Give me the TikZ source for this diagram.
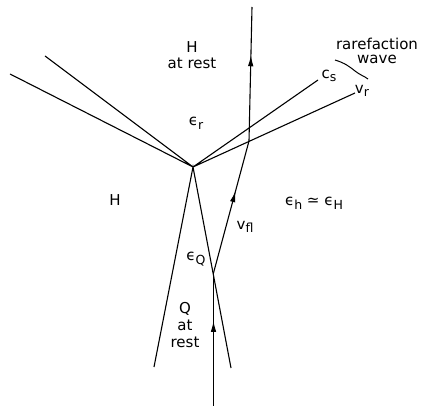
\documentclass[tikz,border=0pt]{standalone}
\usepackage{fontspec}
\setmainfont{DejaVu Sans}
\usetikzlibrary{arrows.meta,decorations.markings}
\newcommand{\lowsub}[1]{\raisebox{-0.45ex}{\fontsize{12.5}{13}\selectfont #1}}

\begin{document}
\begin{tikzpicture}[x=1pt,y=-1pt,
          front/.style={line width=1.1pt},
          flow/.style={line width=1.1pt,postaction={decorate},
                       decoration={markings,mark=at position #1 with {\arrow{Latex[length=11pt,width=5.5pt]}}}},
          lbl/.style={font=\fontsize{15}{17}\selectfont,inner sep=0pt,align=center}]
        \useasboundingbox (0,0) rectangle (423,406);
        % triple point and free ends
        \coordinate (T) at (193,167);
        \coordinate (inA) at (10,74);
        \coordinate (inB) at (45,56);
        \coordinate (cs) at (318,80);
        \coordinate (vr) at (355,93);
        \coordinate (lowL) at (154,367);
        \coordinate (lowR) at (231,368);
        % fluid path
        \coordinate (bot) at (213.5,406);
        \coordinate (Q) at (213.5,273);
        \coordinate (K) at (249,141);
        \coordinate (top) at (252,7);
        % fronts
        \draw[front] (inA) -- (T) -- (inB);
        \draw[front] (cs) -- (T) -- (vr);
        \draw[front] (lowL) -- (T) -- (lowR);
        % flow line
        \draw[flow=0.64] (bot) -- (Q);
        \draw[flow=0.62] (Q) -- (K);
        \draw[flow=0.64] (K) -- (top);
        % rarefaction fan mark
        \draw[line width=1pt] (335,60) .. controls (345,63) and (350,67) .. (355,71) .. controls (360,75) and (364,76) .. (368,79);
        % labels
        \node[lbl] (Hrest) at (192,55) {H\\[-1pt]at rest};
        \node[lbl] (rare) at (377,51) {rarefaction\\[-3pt]wave};
        \node[lbl] (cslbl) at (329,76) {c\lowsub{s}};
        \node[lbl] (vrlbl) at (362,91) {v\lowsub{r}};
        \node[lbl] (epsr) at (196,123) {ϵ\lowsub{r}};
        \node[lbl] (Hleft) at (115,200) {H};
        \node[lbl] (epsh) at (314,203) {ϵ\lowsub{h} ≃ ϵ\lowsub{H}};
        \node[lbl] (vfl) at (245,227) {v\lowsub{fl}};
        \node[lbl] (epsQ) at (196,259) {ϵ\lowsub{Q}};
        \node[lbl] (Qrest) at (185,325) {Q\\at\\rest};
        \end{tikzpicture}
\end{document}
